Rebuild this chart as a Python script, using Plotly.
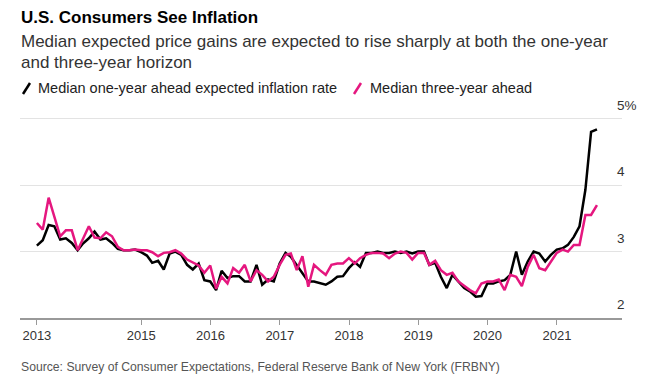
import pandas as pd
import plotly.graph_objects as go

# Monthly survey values, June 2013 - July 2021 (percent)
one_year = [3.09, 3.17, 3.40, 3.38, 3.18, 3.20, 3.13,
            3.02, 3.12, 3.20, 3.30, 3.18, 3.20, 3.13, 3.04, 3.02, 3.02, 3.03, 2.99,
            2.94, 2.83, 2.86, 2.73, 2.97, 3.00, 2.95, 2.80, 2.73, 2.82, 2.57, 2.55,
            2.42, 2.71, 2.60, 2.63, 2.63, 2.55, 2.55, 2.80, 2.50, 2.58, 2.55, 2.82,
            2.98, 2.92, 2.80, 2.68, 2.55, 2.55, 2.53, 2.50, 2.55, 2.62, 2.63, 2.75,
            2.84, 2.77, 2.98, 2.98, 3.00, 2.98, 2.98, 3.00, 2.98, 3.00, 2.97, 3.00,
            3.00, 2.80, 2.83, 2.62, 2.45, 2.65, 2.55, 2.45, 2.40, 2.32, 2.33, 2.52,
            2.52, 2.55, 2.57, 2.65, 3.00, 2.65, 2.85, 3.00, 2.97, 2.85, 2.95, 3.03,
            3.05, 3.10, 3.22, 3.38, 3.93, 4.80, 4.84]
three_year = [3.43, 3.33, 3.81, 3.53, 3.23, 3.32, 3.32,
              3.02, 3.20, 3.38, 3.21, 3.20, 3.29, 3.23, 3.07, 3.02, 3.02, 3.03, 3.02,
              3.02, 2.99, 2.93, 2.98, 2.99, 3.02, 2.97, 2.88, 2.84, 2.79, 2.68, 2.79,
              2.44, 2.62, 2.52, 2.75, 2.68, 2.80, 2.55, 2.72, 2.65, 2.55, 2.62, 2.80,
              2.95, 2.97, 2.72, 2.93, 2.47, 2.80, 2.72, 2.65, 2.80, 2.82, 2.82, 2.90,
              2.82, 2.90, 2.95, 2.98, 2.98, 2.97, 2.90, 2.97, 3.00, 2.98, 2.88, 2.98,
              2.98, 2.80, 2.86, 2.72, 2.65, 2.68, 2.55, 2.48, 2.42, 2.37, 2.52, 2.55,
              2.55, 2.58, 2.42, 2.65, 2.62, 2.48, 2.77, 2.95, 2.75, 2.72, 2.85, 2.98,
              3.03, 3.00, 3.10, 3.10, 3.55, 3.55, 3.70]
start_month = "2013-06-01"

x_tick_vals = ["2013-06-30", "2015-01-01", "2016-01-01", "2017-01-01", "2018-01-01",
               "2019-01-01", "2020-01-01", "2021-01-01"]
x_tick_text = ["2013", "2015", "2016", "2017", "2018", "2019", "2020", "2021"]
y_tick_vals = [2, 3, 4, 5]
y_tick_text = ["2", "3", "4", "5%"]

dates = (pd.date_range(start_month, periods=len(one_year), freq="MS") + pd.offsets.MonthEnd(0)).strftime("%Y-%m-%d").tolist()

BLACK = "#000000"
PINK = "#e5177f"
FONT = "Liberation Sans"

# The page body adds an 8px offset; figure is sized so the visible window matches.
OFF = 8
W, H = 654 - OFF, 392 - OFF
L, R, T, B = 20 - OFF, 32, 112 - OFF, 74
pw, ph = W - L - R, H - T - B


def px(x):
    return (x - OFF - L) / pw


def py(y):
    return (H - B - (y - OFF)) / ph


fig = go.Figure()
fig.add_trace(go.Scatter(x=dates, y=one_year, mode="lines", name="Median one-year ahead expected inflation rate",
                         line=dict(color=BLACK, width=2.5)))
fig.add_trace(go.Scatter(x=dates, y=three_year, mode="lines", name="Median three-year ahead",
                         line=dict(color=PINK, width=2.5)))

annotations = [
    dict(text="<b>U.S. Consumers See Inflation</b>", x=px(19), y=py(17), font=dict(size=17, color="#000")),
    dict(text="Median expected price gains are expected to rise sharply at both the one-year",
         x=px(19), y=py(42), font=dict(size=17, color="#333")),
    dict(text="and three-year horizon", x=px(19), y=py(62), font=dict(size=17, color="#333")),
    dict(text="Median one-year ahead expected inflation rate", x=px(36), y=py(88), font=dict(size=14.5, color="#222")),
    dict(text="Median three-year ahead", x=px(368), y=py(88), font=dict(size=14.5, color="#222")),
    dict(text="Source: Survey of Consumer Expectations, Federal Reserve Bank of New York (FRBNY)",
         x=px(19), y=py(367), font=dict(size=12.2, color="#555")),
]
for a in annotations:
    a.update(xref="paper", yref="paper", xanchor="left", yanchor="middle", showarrow=False)

shapes = [
    dict(type="line", xref="paper", yref="paper", x0=px(23), y0=py(94), x1=px(30), y1=py(83),
         line=dict(color=BLACK, width=2.5)),
    dict(type="line", xref="paper", yref="paper", x0=px(354), y0=py(94), x1=px(361), y1=py(83),
         line=dict(color=PINK, width=2.5)),
]

fig.update_layout(
    width=W, height=H,
    margin=dict(l=L, r=R, t=T, b=B),
    paper_bgcolor="white", plot_bgcolor="white",
    showlegend=False,
    font=dict(family=FONT, color="#333"),
    annotations=annotations,
    shapes=shapes,
    xaxis=dict(
        type="date",
        range=["2013-04-02", "2021-12-10"],
        tickvals=x_tick_vals, ticktext=x_tick_text,
        showgrid=False, zeroline=False,
        showline=True, linecolor="#999", linewidth=1.5,
        ticks="outside", ticklen=5, tickcolor="#999", tickwidth=1,
        tickfont=dict(size=13, color="#333"),
    ),
    yaxis=dict(
        side="right",
        range=[2, 5.1],
        tickvals=y_tick_vals, ticktext=y_tick_text,
        showgrid=True, gridcolor="#e3e3e3", gridwidth=1,
        zeroline=False, showline=False, ticks="",
        ticklabelposition="outside top",
        ticklabelstandoff=-6,
        ticklabelshift=-4,
        tickfont=dict(size=13.5, color="#333"),
    ),
)

fig.write_html("out.html")
